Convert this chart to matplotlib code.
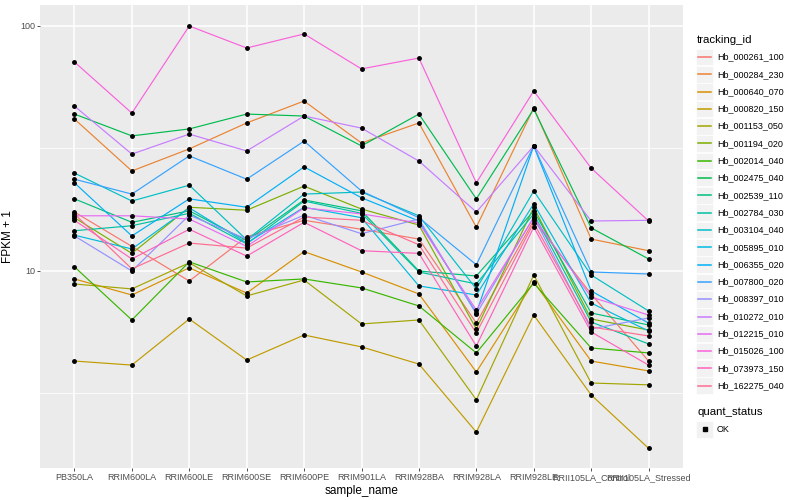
import numpy as np
import matplotlib
matplotlib.use("Agg")
import matplotlib.pyplot as plt
from matplotlib.ticker import FixedLocator, NullFormatter
from matplotlib.lines import Line2D
from matplotlib.patches import Rectangle

plt.rcParams["font.family"] = ["Liberation Sans", "DejaVu Sans"]

samples = ["PB350LA", "RRIM600LA", "RRIM600LE", "RRIM600SE", "RRIM600PE",
           "RRIM901LA", "RRIM928BA", "RRIM928LA", "RRIM928LE",
           "RRII105LA_Control", "RRII105LA_Stressed"]

# FPKM + 1, one list per gene, in sample order
hb_000261_100 = [17.4, 12.6, 9.10, 13.8, 16.1, 14.8, 13.5, 6.13, 16.1, 8.06, 4.29]
hb_000284_230 = [41.7, 25.6, 31.5, 40.2, 49.4, 33.3, 40.2, 15.1, 46.3, 13.5, 12.1]
hb_000640_070 = [9.28, 7.98, 10.3, 8.13, 12.0, 9.91, 8.06, 3.87, 9.02, 4.29, 3.91]
hb_000820_150 = [4.29, 4.13, 6.37, 4.33, 5.48, 4.90, 4.17, 2.20, 6.61, 3.12, 1.89]
hb_001153_050 = [8.85, 8.45, 10.8, 7.91, 9.19, 6.08, 6.31, 2.98, 9.63, 3.49, 3.43]
hb_001194_020 = [16.5, 11.8, 18.2, 17.7, 22.2, 17.9, 15.4, 5.80, 18.2, 6.37, 5.74]
hb_002014_040 = [10.4, 6.31, 10.9, 9.02, 9.28, 8.53, 7.20, 4.63, 8.93, 4.85, 4.63]
hb_002475_040 = [43.7, 35.6, 38.0, 43.7, 42.9, 32.4, 43.7, 19.7, 45.8, 15.0, 11.2]
hb_002539_110 = [19.7, 15.8, 17.6, 13.3, 19.5, 17.6, 10.0, 9.54, 17.6, 6.74, 6.02]
hb_002784_030 = [14.6, 15.3, 17.2, 12.9, 19.3, 17.2, 9.91, 8.85, 17.1, 6.19, 5.04]
hb_003104_040 = [25.1, 19.3, 22.4, 13.4, 20.6, 21.0, 16.8, 8.45, 21.2, 9.63, 6.87]
hb_005895_010 = [14.0, 12.3, 18.1, 13.0, 18.2, 16.5, 8.69, 7.98, 18.8, 7.40, 5.69]
hb_006355_020 = [22.9, 13.9, 19.7, 18.2, 26.6, 19.9, 16.0, 6.74, 32.4, 8.29, 6.13]
hb_007800_020 = [23.7, 20.6, 29.5, 23.7, 33.9, 21.2, 16.5, 10.6, 32.4, 9.91, 9.72]
hb_008397_010 = [13.9, 10.0, 16.9, 13.5, 16.9, 14.2, 16.3, 6.68, 16.6, 5.80, 6.43]
hb_010272_010 = [47.1, 30.0, 36.2, 30.9, 42.9, 38.3, 28.1, 17.4, 32.4, 16.0, 16.1]
hb_012215_010 = [16.8, 16.8, 16.3, 12.6, 18.1, 17.1, 15.7, 6.93, 16.5, 7.83, 6.61]
hb_015026_100 = [71.3, 44.1, 100.0, 81.3, 92.8, 66.8, 74.0, 22.9, 54.3, 26.3, 16.0]
hb_073973_150 = [16.1, 11.2, 14.8, 11.5, 15.8, 12.1, 11.8, 4.94, 15.1, 5.64, 4.13]
hb_162275_040 = [17.1, 10.2, 13.0, 12.4, 16.6, 16.1, 12.8, 5.58, 15.7, 5.91, 5.43]

tracking_ids = ["Hb_000261_100", "Hb_000284_230", "Hb_000640_070", "Hb_000820_150",
                "Hb_001153_050", "Hb_001194_020", "Hb_002014_040", "Hb_002475_040",
                "Hb_002539_110", "Hb_002784_030", "Hb_003104_040", "Hb_005895_010",
                "Hb_006355_020", "Hb_007800_020", "Hb_008397_010", "Hb_010272_010",
                "Hb_012215_010", "Hb_015026_100", "Hb_073973_150", "Hb_162275_040"]
series = [hb_000261_100, hb_000284_230, hb_000640_070, hb_000820_150,
          hb_001153_050, hb_001194_020, hb_002014_040, hb_002475_040,
          hb_002539_110, hb_002784_030, hb_003104_040, hb_005895_010,
          hb_006355_020, hb_007800_020, hb_008397_010, hb_010272_010,
          hb_012215_010, hb_015026_100, hb_073973_150, hb_162275_040]

# ggplot default hue palette for 20 levels
colors = ["#F8766D", "#EA8331", "#D89000", "#C09B00", "#A3A500", "#7CAE00",
          "#39B600", "#00BB4E", "#00BF7D", "#00C1A3", "#00BFC4", "#00BAE0",
          "#00B0F6", "#35A2FF", "#9590FF", "#C77CFF", "#E76BF3", "#FA62DB",
          "#FF62BC", "#FF6C91"]

W, H = 800, 500
fig = plt.figure(figsize=(8, 5), dpi=100)
ax = fig.add_axes([40 / W, 1 - 468 / H, (683 - 40) / W, (468 - 5) / H])
ax.set_facecolor("#EBEBEB")
for s in ax.spines.values():
    s.set_visible(False)

x = np.arange(len(samples))
for vals, col in zip(series, colors):
    ax.plot(x, vals, color=col, lw=0.85, zorder=3)
for vals in series:
    ax.plot(x, vals, ls="none", marker="o", ms=2.5, color="black", zorder=4)

ax.set_yscale("log")
ax.set_ylim(1.57, 121.8)
ax.set_xlim(-0.6, len(samples) - 0.4)
ax.set_xticks(x)
ax.set_xticklabels(samples)
ax.set_yticks([10, 100])
ax.set_yticklabels(["10", "100"])
ax.yaxis.set_minor_locator(FixedLocator([10 ** 0.5, 10 ** 1.5]))
ax.yaxis.set_minor_formatter(NullFormatter())
ax.set_axisbelow(True)
ax.grid(which="major", color="white", lw=1.1)
ax.grid(which="minor", axis="y", color="white", lw=0.55)
ax.tick_params(which="major", length=2.2, width=0.6, color="#333333",
               labelcolor="#4D4D4D", labelsize=6.5, pad=1.5)
ax.tick_params(which="minor", length=0)
ax.set_xlabel("sample_name", fontsize=8.5, labelpad=2)
ax.set_ylabel("FPKM + 1", fontsize=8.5, labelpad=4)

# legend drawn in figure pixels
def fx(px):
    return px / W

def fy(py):
    return 1 - py / H

fig.text(fx(697), fy(40), "tracking_id", fontsize=8.2, va="center", ha="left")
for i, (tid, col) in enumerate(zip(tracking_ids, colors)):
    yc = 57 + 17.3 * i
    fig.patches.append(Rectangle((fx(696), fy(yc + 8.3)), 17 / W, 16.6 / H,
                                 transform=fig.transFigure, facecolor="#F2F2F2",
                                 edgecolor="white", lw=0.5, zorder=1))
    fig.lines.append(Line2D([fx(698), fx(711)], [fy(yc), fy(yc)],
                            transform=fig.transFigure, color=col, lw=1.1,
                            zorder=3))
    fig.text(fx(717), fy(yc), tid, fontsize=6.5, va="center", ha="left")

fig.text(fx(697), fy(412), "quant_status", fontsize=8.2, va="center", ha="left")
fig.patches.append(Rectangle((fx(696), fy(437.5)), 17 / W, 16.6 / H,
                             transform=fig.transFigure, facecolor="#F2F2F2",
                             edgecolor="white", lw=0.5, zorder=1))
fig.lines.append(Line2D([fx(704.5)], [fy(429)], transform=fig.transFigure,
                        ls="none", marker="s", ms=2.4, color="black", zorder=3))
fig.text(fx(717), fy(429), "OK", fontsize=6.5, va="center", ha="left")

fig.savefig("out.png", dpi=100)
